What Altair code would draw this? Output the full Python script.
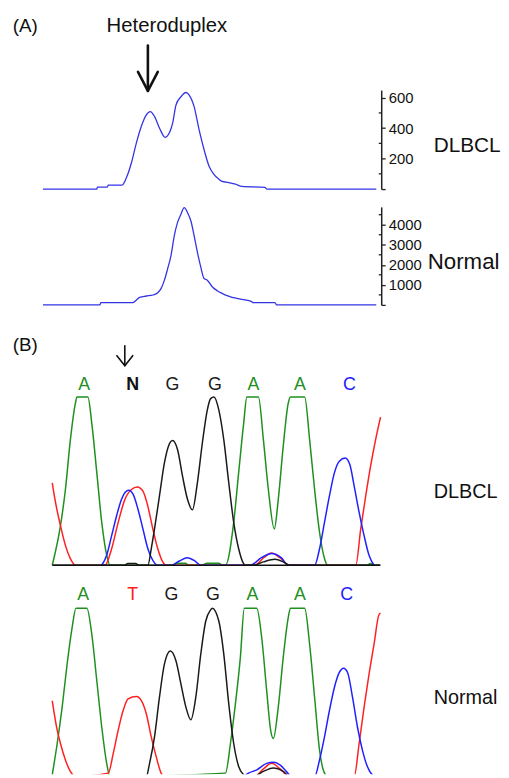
import altair as alt
import pandas as pd

FONT = "Liberation Sans"
GREEN, RED, BLUE, BLACK = "#1e901e", "#ff2020", "#2020ff", "#1a1a1a"
LINE_A = "#3434e6"

# ---------------- Panel A: heteroduplex elution profiles (x: scan position, v: signal)
A_DLBCL = [(42.3, 0), (96.7, 0), (97.3, 13), (107.3, 13), (108.3, 26), (122.3, 26), (126.7, 76),
           (131.7, 173), (136.7, 303), (141.7, 412), (146.7, 487), (150.7, 509), (155, 477),
           (160, 401), (165.7, 340), (170.7, 379), (173.3, 433), (176.7, 552), (181.7, 606),
           (186.7, 634), (190, 617), (195, 541), (200, 390), (205, 260), (210, 152), (215, 97),
           (220, 65), (223.3, 50), (230, 43), (236.7, 32), (243.3, 17), (266.7, 11), (268.3, 0),
           (379, 0)]
A_NORMAL = [(42.3, 0), (100, 0), (100.7, 115), (133.3, 115), (136.7, 247), (140, 379),
            (146.7, 444), (153.3, 494), (158.3, 609), (161.7, 823), (165, 1235), (168.3, 1811),
            (171.7, 2469), (175, 3457), (178.3, 4115), (181.7, 4527), (185, 4856), (188.3, 4609),
            (191.7, 4197), (195, 3457), (198.3, 2634), (201.7, 1893), (205, 1317), (208.3, 1235),
            (213.3, 905), (218.3, 708), (223.3, 576), (228.3, 461), (233.3, 379), (243.3, 280),
            (253.3, 165), (254, 115), (276.7, 115), (278.3, 0), (379, 0)]

# ---------------- Panel B: sequencing chromatograms (x: scan position, v: signal, 100 = clipped top)
B1_GREEN = [(51.7, 0), (60, 23.5), (65, 45), (70, 74.5), (75, 96), (76.7, 100), (87.7, 100),
            (91.7, 84), (96.7, 55), (101.7, 25.5), (106.7, 6), (110, 0), (173, 0), (178, 1.2),
            (186, 1.2), (190, 0), (203, 0), (208, 1.2), (220, 1.2), (224, 0), (226.7, 0),
            (235, 25.5), (240, 55), (245, 84), (248.3, 100), (260, 100), (265, 74.5), (270, 45),
            (276, 21.6), (280, 39), (285, 70.6), (290, 96), (292.3, 100), (306.7, 100),
            (311.7, 74.5), (316.7, 45), (321.7, 19.6), (326.7, 4), (330, 0), (370, 0), (373, 1),
            (377, 0), (383, 0)]
B1_RED = [(51.7, 49), (55, 37.3), (60, 23.5), (65, 11.8), (70, 3.9), (75, 0), (105, 0),
          (111.7, 9.8), (118.3, 25.5), (125, 39), (131.7, 45), (137.7, 46.5), (143.3, 44),
          (148.3, 35), (153.3, 21.6), (158.3, 9.8), (163.3, 2), (166.7, 0), (256, 0), (265, 4.3),
          (273.3, 7.3), (282, 4.3), (291, 0), (358.3, 0), (363.3, 21.6), (368.3, 41), (373.3, 59),
          (378.3, 74.5), (383.3, 88)]
B1_BLUE = [(101.7, 0), (106.7, 5.9), (111.7, 17.6), (116.7, 29.4), (121.7, 39.2), (126.7, 44.1),
           (129, 44.5), (133.3, 42.2), (138.3, 33.3), (143.3, 21.6), (148.3, 9.8), (153.3, 2.9),
           (158.3, 0), (171.7, 0), (180, 2.5), (188, 4.5), (196, 2.5), (201.7, 0), (251.7, 0),
           (263, 4.5), (273.3, 7), (283, 4.5), (290, 0), (316.7, 0), (321.7, 9.8), (326.7, 25.5),
           (331.7, 41.2), (336.7, 54.9), (341.7, 61.8), (347.7, 63.7), (352.3, 59.8), (356.7, 47),
           (361.7, 31.4), (366.7, 17.6), (371.7, 5.9), (376.7, 0)]
B1_BLACK = [(52, 0), (125, 0), (128, 1), (136, 1), (139, 0), (148.3, 0), (151.7, 9.8),
            (155, 21.6), (160, 41.2), (165, 60.8), (169, 70.6), (173.3, 74.1), (178.3, 68.6),
            (183.3, 52.9), (188.3, 39.2), (193.3, 32.9), (198.3, 49), (203.3, 72.5),
            (208.3, 92.2), (211.7, 99), (215, 100), (220, 92.2), (225, 74.5), (230, 49),
            (235, 25.5), (240, 9.8), (245, 1), (246.7, 0), (255, 0), (265, 2), (276.7, 3.5),
            (285, 2), (291.7, 0), (383, 0)]

B2_GREEN = [(51.7, 1), (56.7, 19.6), (61.7, 41.2), (66.7, 66.7), (71.7, 88.2), (75.7, 100),
            (86.7, 100), (91.7, 84.3), (96.7, 56.9), (101.7, 29.4), (106.7, 7.8), (110, 0),
            (226.7, 2), (231.7, 19.6), (236.7, 43.1), (241.7, 70.6), (245.7, 100), (258.3, 100),
            (263.3, 82.4), (268.3, 51), (272.3, 27.5), (275, 22.5), (280, 41.2), (285, 70.6),
            (290, 94.1), (292.3, 100), (306.7, 100), (311.7, 78.4), (316.7, 47.1), (321.7, 15.7),
            (326.7, 2), (330, 0), (383, 0)]
B2_RED = [(51.7, 45), (56.7, 27.5), (60, 19.6), (65, 9.8), (70, 3), (75, 0), (108.3, 2),
          (113.3, 13.7), (118.3, 27.5), (123.3, 39.2), (128.3, 46.1), (136.7, 47.5), (141.7, 45.1),
          (146.7, 37.3), (151.7, 23.5), (156.7, 11.8), (161.7, 2), (165, 0), (256, 0), (265, 4.5),
          (273.3, 7.8), (282, 4.5), (291, 0), (356.7, 0), (361.7, 19.6), (366.7, 41.2),
          (371.7, 60.8), (376.7, 78.4), (381.7, 96.1), (383.3, 97)]
B2_BLUE = [(245, 0), (250, 2), (258.3, 3.9), (268.3, 7.8), (275, 8.4), (281.7, 6.9), (288.3, 2.9),
           (293.3, 0), (316.7, 0), (321.7, 9.8), (326.7, 23.5), (331.7, 39.2), (336.7, 52.9),
           (341.7, 61.8), (346, 64.3), (350, 61.8), (355, 47.1), (360, 29.4), (365, 15.7),
           (370, 5.9), (375, 1), (378.3, 0)]
B2_BLACK = [(52, 0), (146.7, 0), (150, 7.8), (155, 23.5), (160, 47.1), (165, 66.7), (171, 74.5),
            (176.7, 68.6), (181.7, 54.9), (186.7, 41.2), (191.7, 33.7), (196.7, 47.1),
            (201.7, 72.5), (206.7, 92.2), (211.7, 99), (213.3, 100), (220, 92.2), (225, 72.5),
            (230, 43.1), (235, 19.6), (240, 5.9), (245, 1), (248.3, 0), (255, 0), (265, 3),
            (275, 5), (285, 3), (291.7, 0), (383, 0)]

BASES_DLBCL = ["A", "N", "G", "G", "A", "A", "C"]
BASE_POS_DLBCL = [84, 133, 173, 216, 255, 302, 352]
BASES_NORMAL = ["A", "T", "G", "G", "A", "A", "C"]
BASE_POS_NORMAL = [83, 133, 172, 214, 254, 302, 349]

A1_MAJOR = [0, 200, 400, 600]
A1_MINOR = [100, 300, 500]
A2_MAJOR = [0, 1000, 2000, 3000, 4000]
A2_MINOR = [500, 1500, 2500, 3500, 4500]


def trace_df(pairs, base):
    return pd.DataFrame(pairs, columns=["x", "v"]).assign(base=base)


XDOM = [42, 384]
BASE_SCALE = alt.Scale(domain=["A", "C", "G", "T", "N"], range=[GREEN, BLUE, BLACK, RED, BLACK])
ONE = pd.DataFrame({"k": [0]})


def sc(dom):
    return alt.Scale(domain=dom, nice=False, zero=False)


def label(txt, x, y, ydom, size, align="left", color="#111", weight="normal"):
    return alt.Chart(ONE).mark_text(
        text=txt, align=align, baseline="middle", font=FONT, fontSize=size,
        color=color, fontWeight=weight
    ).encode(x=alt.X(datum=x, scale=sc(XDOM)), y=alt.Y(datum=y, scale=sc(ydom)))


def seg(x1, y1, x2, y2, ydom, w):
    return alt.Chart(ONE).mark_rule(color="#111", strokeWidth=w, strokeCap="round").encode(
        x=alt.X(datum=x1, scale=sc(XDOM)), y=alt.Y(datum=y1, scale=sc(ydom)),
        x2=alt.X2(datum=x2), y2=alt.Y2(datum=y2))


def hrm_axis(ticks):
    return alt.Axis(
        orient="right", values=ticks, tickCount=50, format="d", title=None, grid=False,
        labelExpr="datum.value > 0 ? datum.label : ''",
        tickSize=4, labelPadding=3, labelOverlap=False, labelFlush=False, labelBound=False,
        labelFont=FONT, labelFontSize=15, labelColor="#111",
        domainColor="#222", domainWidth=1.5, tickColor="#222", tickWidth=1.3,
    )


def minor_ticks(values, ydom):
    df = pd.DataFrame({"v": values})
    return alt.Chart(df).mark_rule(color="#222", strokeWidth=1.3).encode(
        x=alt.X(datum=381.5, scale=sc(XDOM)), x2=alt.X2(datum=384),
        y=alt.Y("v:Q", scale=sc(ydom)))


def hrm_panel(pairs, ydom, major, minor, name, name_x, name_y, name_size, height, extra):
    line = alt.Chart(trace_df(pairs, name)).mark_line(
        color=LINE_A, strokeWidth=1.3, interpolate="monotone").encode(
        x=alt.X("x:Q", scale=sc(XDOM), axis=None),
        y=alt.Y("v:Q", scale=sc(ydom), axis=hrm_axis(major)),
    )
    return alt.layer(
        line, minor_ticks(minor, ydom), *extra,
        label(name, name_x, name_y, ydom, name_size),
    ).properties(width=342, height=height)


A1_DOM = [0, 650]
a1 = hrm_panel(A_DLBCL, A1_DOM, A1_MAJOR, A1_MINOR, "DLBCL", 437, 281, 21, 100, [
    label("(A)", 11.7, 1070, A1_DOM, 19),
    label("Heteroduplex", 167.5, 1070, A1_DOM, 20.5, align="center"),
    seg(148.3, 942, 148.3, 650, A1_DOM, 2.6),
    seg(138.3, 769, 148.3, 645, A1_DOM, 2.6),
    seg(158.3, 769, 148.3, 645, A1_DOM, 2.6),
])
A2_DOM = [0, 4890]
a2 = hrm_panel(A_NORMAL, A2_DOM, A2_MAJOR, A2_MINOR, "Normal", 431, 2119, 22.5, 99, [])


def chromatogram(traces, bases, positions, ydom, letter_y, name, name_y, clip):
    df = pd.concat([trace_df(p, b) for p, b in traces], ignore_index=True)
    lines = alt.Chart(df).mark_line(strokeWidth=1.5, interpolate="monotone", clip=clip).encode(
        x=alt.X("x:Q", scale=sc(XDOM), axis=None),
        y=alt.Y("v:Q", scale=sc(ydom), axis=None),
        color=alt.Color("base:N", scale=BASE_SCALE, legend=None),
        detail="base:N",
    )
    letters_df = pd.DataFrame({"base": bases, "x": positions, "y": [letter_y] * len(bases)})
    letters = alt.Chart(letters_df).mark_text(
        font=FONT, fontSize=18, baseline="middle", align="center").encode(
        x=alt.X("x:Q", scale=sc(XDOM)),
        y=alt.Y("y:Q", scale=sc(ydom)),
        text="base:N",
        color=alt.Color("base:N", scale=BASE_SCALE, legend=None),
    ).transform_filter("datum.base !== 'N'")
    letters_n = alt.Chart(letters_df).mark_text(
        font=FONT, fontSize=18, baseline="middle", align="center", fontWeight="bold",
        color="#111").encode(
        x=alt.X("x:Q", scale=sc(XDOM)),
        y=alt.Y("y:Q", scale=sc(ydom)),
        text="base:N",
    ).transform_filter("datum.base === 'N'")
    return [lines, letters, letters_n, label(name, 437, name_y, ydom, 20)]


B1_DOM = [0, 144.1]
b1_layers = chromatogram(
    [(B1_GREEN, "A"), (B1_RED, "T"), (B1_BLUE, "C"), (B1_BLACK, "G")],
    BASES_DLBCL, BASE_POS_DLBCL, B1_DOM, 106.8, "DLBCL", 43.3, False)
baseline = alt.Chart(ONE).mark_rule(color="#111", strokeWidth=1.6).encode(
    x=alt.X(datum=52, scale=sc(XDOM)), x2=alt.X2(datum=383), y=alt.Y(datum=0, scale=sc(B1_DOM)))
b1 = alt.layer(
    *b1_layers,
    baseline,
    label("(B)", 11.7, 130.8, B1_DOM, 19),
    seg(125, 130.4, 125, 119, B1_DOM, 1.6),
    seg(117, 124.5, 125, 118.6, B1_DOM, 1.6),
    seg(133, 124.5, 125, 118.6, B1_DOM, 1.6),
).properties(width=342, height=245)

B2_DOM = [1.4, 114.9]
b2_layers = chromatogram(
    [(B2_GREEN, "A"), (B2_RED, "T"), (B2_BLUE, "C"), (B2_BLACK, "G")],
    BASES_NORMAL, BASE_POS_NORMAL, B2_DOM, 107.6, "Normal", 46.6, True)
b2 = alt.layer(*b2_layers).properties(width=342, height=193)

chart = alt.vconcat(a1, a2, b1, b2, spacing=18, bounds="flush").properties(
    padding={"left": 4, "top": 4, "right": 0, "bottom": 0}
).configure_view(stroke=None)

chart.save("out.html", embed_options={"renderer": "svg", "actions": False})
